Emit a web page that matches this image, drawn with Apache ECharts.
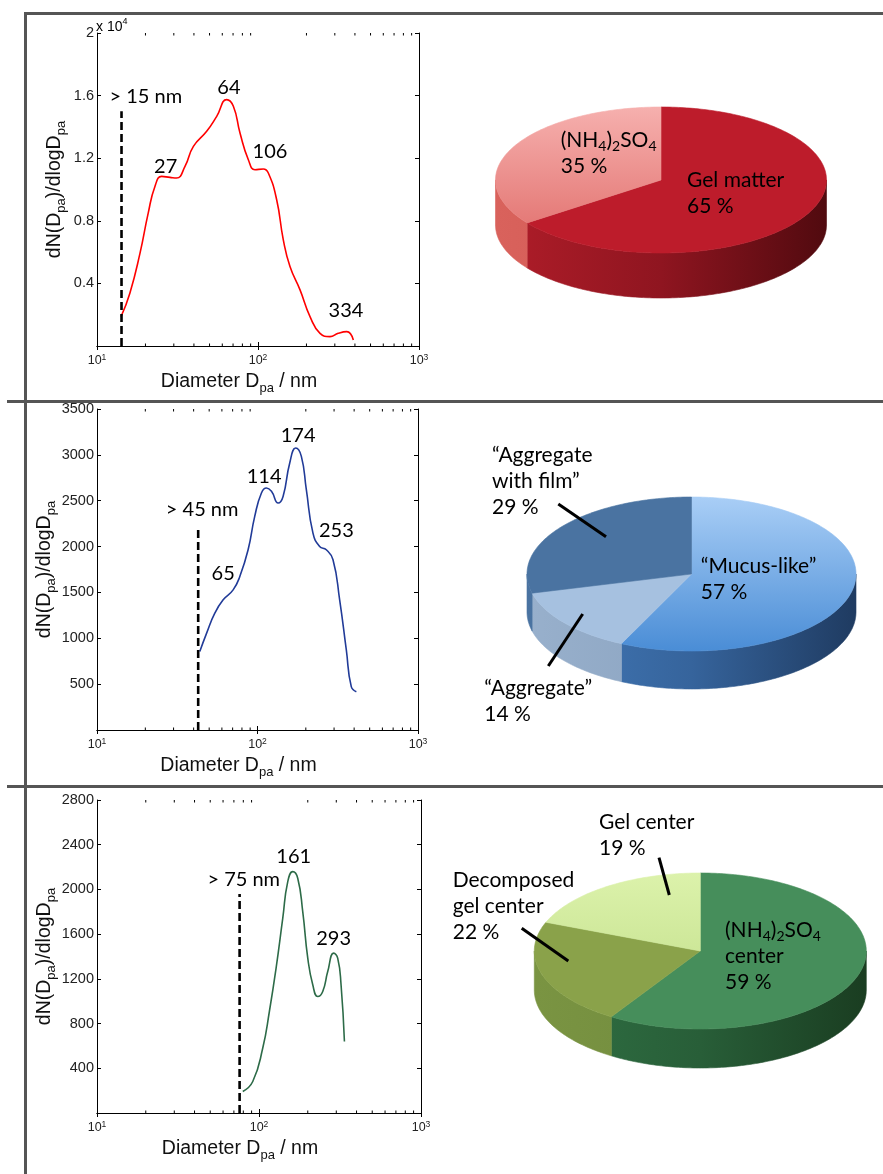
<!DOCTYPE html>
<html><head><meta charset="utf-8">
<script src="https://cdn.jsdelivr.net/npm/echarts@6/dist/echarts.min.js"></script>
<style>html,body{margin:0;padding:0;background:#fff}#c{width:883px;height:1174px}</style>
</head><body><div id="c"></div>
<script>
// ---------- DATA ----------
const D1 = [14.1,16.0,18.5,20.8,22.9,25.2,28.4,31.2,35.2,39.7,48.0,55.4,63.9,70.3,77.3,87.1,95.8,107.9,115.9,130.6,143.6,158,182.4,210.4,242.8,280,315,356,391];
const V1 = [1877,3371,5931,8491,10197,10837,10773,10731,11477,12757,13717,14677,15744,15317,13611,11904,11264,11307,11051,9344,6784,5077,3584,1877,811,597,811,917,384];
const D2 = [43.7,48.2,54.2,61.1,70.5,77.6,87.4,96.1,105.8,113.7,122.2,134.4,144.3,158.8,173,187.6,201.5,221.6,243.9,268.3,295.4,325,357.6,384,413];
const V2 = [855,1056,1274,1419,1528,1674,1965,2329,2584,2638,2602,2475,2547,2912,3075,2984,2620,2147,2001,1965,1856,1419,873,473,418];
const D3 = [79.4,91.5,105.5,115.9,127.5,140.2,150.5,161.6,173.4,186.2,200,214.7,230.5,247.4,265.6,289,306,321,336.8];
const V3 = [193,282,581,908,1296,1743,2070,2159,2100,1802,1385,1147,1042,1087,1265,1430,1385,1147,640];

const peakText1 = ['27','64','106','334'];
const peakAt1 = [[26.7,11475],[66,16493],[118.7,12397],[352,2240]];
const peakText2 = ['65','114','174','253'];
const peakAt2 = [[61.1,1711],[109.9,2765],[179,3213],[310,2172]];
const peakText3 = ['161','293'];
const peakAt3 = [[163.9,2293],[289,1564]];

const cutoffD = [14.2, 42.7, 75.9];
const cutoffTop = [15000, 2200, 1960];
const cutoffText = ['> 15 nm','> 45 nm','> 75 nm'];
const cutoffTextAt = [[20.1,15955],[45.2,2409],[80.5,2085]];

const yMax = [20000, 3500, 2800];
const yStep = [4000, 500, 400];
const xMajorTicks = [10, 100, 1000];
const xMinorTicks = [20,30,40,50,60,70,80,90,200,300,400,500,600,700,800,900];

const pie1Names = ['Gel matter','(NH4)2SO4'];
const pie1Values = [65, 35];
const pie2Names = ['Mucus-like','Aggregate','Aggregate with film'];
const pie2Values = [57, 14, 29];
const pie3Names = ['(NH4)2SO4 center','Decomposed gel center','Gel center'];
const pie3Values = [59, 22, 19];

// ---------- LAYOUT / STYLE ----------
const AX = 'Liberation Sans, Arial, sans-serif';
const LB = 'Lato, Open Sans, sans-serif';
const grids = [
  {left:97, top:33, width:322, height:313},
  {left:97, top:409, width:321, height:321},
  {left:97, top:800, width:324, height:313}
];
const lineColors = ['#ff0000', '#213b98', '#2d6b48'];
const Ds = [D1,D2,D3], Vs = [V1,V2,V3];
const peakTexts = [peakText1,peakText2,peakText3], peakAts = [peakAt1,peakAt2,peakAt3];

const LG = echarts.graphic.LinearGradient;
const pieGeo = [
  {cx:661, cy:180, rx:165.5, ry:73, depth:45},
  {cx:691.5, cy:574, rx:164.5, ry:77, depth:38},
  {cx:700.3, cy:951, rx:166, ry:78, depth:39}
];
function hgrad(g, stops){ return new LG(g.cx-g.rx, 0, g.cx+g.rx, 0, stops.map((c,i)=>({offset:i/(stops.length-1), color:c})), true); }
function vgrad(g, stops){ return new LG(0, g.cy-g.ry, 0, g.cy+g.ry, stops.map((c,i)=>({offset:i/(stops.length-1), color:c})), true); }
const pieStyles = [
  [ {top:'#bd1c2b', side:['#b01d29','#8f1520','#510a0f']},
    {top:['#f6b0ae','#e06c69'], side:['#d9625c','#c8504b']} ],
  [ {top:['#a9cef6','#4a8dd6'], side:['#4279b8','#36649c','#1f3b61']},
    {top:'#a6c1e0', side:['#98b0cc','#8099b7']},
    {top:'#4a73a1', side:['#4a73a1','#3c5f88']} ],
  [ {top:'#468e5b', side:['#2f7043','#285e38','#1a3d21']},
    {top:'#8aa24a', side:['#7a9442','#6a843a']},
    {top:['#dcf2ab','#bedc86'], side:['#b8d480','#a8c470']} ]
];
function fillOf(g, f, isSide){
  if (typeof f === 'string') return f;
  return isSide ? hgrad(g, f) : vgrad(g, f);
}

function pieSeries(values, g, styles){
  const total = values.reduce((a,b)=>a+b,0);
  return {
    type:'custom', coordinateSystem:'none', silent:true, data: values,
    renderItem: function(params, api){
      const i = params.dataIndex;
      let before = 0; for (let k=0;k<i;k++) before += values[k];
      const a1 = before/total*Math.PI*2;
      const a2 = a1 + api.value(0)/total*Math.PI*2;
      const pt = (t, dy) => [g.cx + g.rx*Math.sin(t), g.cy - g.ry*Math.cos(t) + (dy||0)];
      const arc = (s, e, dy) => { const n = Math.max(2, Math.ceil((e-s)/Math.PI*180)); const p=[]; for(let k=0;k<=n;k++) p.push(pt(s+(e-s)*k/n, dy)); return p; };
      const st = styles[i];
      const children = [];
      const s = Math.max(a1, Math.PI/2), e = Math.min(a2, Math.PI*1.5);
      if (s < e) {
        const pts = arc(s, e, 0).concat(arc(s, e, g.depth).reverse());
        const f = fillOf(g, st.side, true);
        children.push({type:'polygon', z2:1, shape:{points:pts}, style:{fill:f, stroke:f, lineWidth:0.6}});
      }
      const topPts = [[g.cx, g.cy]].concat(arc(a1, a2, 0));
      const tf = fillOf(g, st.top, false);
      children.push({type:'polygon', z2:2, shape:{points:topPts}, style:{fill:tf, stroke:tf, lineWidth:0.6}});
      return {type:'group', children};
    }
  };
}

// ---------- OPTION ----------
const xAxes = [], yAxes = [], series = [];
const tickLabelStyle = {fontFamily:AX, fontSize:14.5, color:'#222'};
const nameRich = {n:{fontFamily:AX, fontSize:19.5, lineHeight:26, color:'#111'}, s:{fontFamily:AX, fontSize:13, lineHeight:13, verticalAlign:'bottom', color:'#111'}};
grids.forEach((gr, i) => {
  xAxes.push({
    type:'log', logBase:10, min:10, max:1000, gridIndex:i, position:'bottom',
    axisLine:{show:true, lineStyle:{color:'#000', width:1}},
    axisTick:{show:true, inside:true, length:4, lineStyle:{color:'#000'}},
    splitLine:{show:false},
    axisLabel:{margin:7, formatter: v => '{b|10}{s|' + Math.round(Math.log10(v)) + '}',
      rich:{b:{fontFamily:AX, fontSize:12.5, lineHeight:16, color:'#222'}, s:{fontFamily:AX, fontSize:8.5, lineHeight:8, verticalAlign:'top', color:'#222'}}},
    name:'{n|Diameter D}{s|pa}{n| / nm}', nameLocation:'middle', nameGap:23,
    nameTextStyle:{rich:nameRich, padding:[0,38,0,0]}
  });
  xAxes.push({
    type:'log', logBase:10, min:10, max:1000, gridIndex:i, position:'top',
    axisLine:{show:true, lineStyle:{color:'#000', width:1}},
    axisTick:{show:true, inside:true, length:4, lineStyle:{color:'#000'}},
    axisLabel:{show:false}, splitLine:{show:false}
  });
  yAxes.push({
    type:'value', min:0, max:yMax[i], interval:yStep[i], gridIndex:i, position:'left',
    axisLine:{show:true, lineStyle:{color:'#000', width:1}},
    axisTick:{show:true, inside:true, length:4, lineStyle:{color:'#000'}},
    splitLine:{show:false},
    axisLabel:Object.assign({margin:3, formatter: v => v === 0 ? '' : (i === 0 ? String(v/10000) : String(v))}, tickLabelStyle),
    name:'{n|dN(D}{s|pa}{n|)/dlogD}{s|pa}', nameLocation:'middle', nameGap:29, nameRotate:90,
    nameTextStyle:{rich:nameRich}
  });
  yAxes.push({
    type:'value', min:0, max:yMax[i], interval:yStep[i], gridIndex:i, position:'right',
    axisLine:{show:true, lineStyle:{color:'#000', width:1}},
    axisTick:{show:true, inside:true, length:4, lineStyle:{color:'#000'}},
    axisLabel:{show:false}, splitLine:{show:false}
  });
  const xi = i*2, yi = i*2;
  series.push({
    type:'line', xAxisIndex:xi, yAxisIndex:yi, smooth:0.5, symbol:'none', silent:true,
    data: Ds[i].map((d,k)=>[d, Vs[i][k]]),
    lineStyle:{color:lineColors[i], width:1.6}, z:3
  });
  series.push({
    type:'line', xAxisIndex:xi, yAxisIndex:yi, symbol:'none', silent:true,
    data: [[cutoffD[i], 0], [cutoffD[i], cutoffTop[i]]],
    lineStyle:{color:'#000', width:2.6, type:[8,4]}, z:4
  });
  series.push({
    type:'scatter', xAxisIndex:xi, yAxisIndex:yi, symbol:'rect', symbolSize:0, silent:true,
    itemStyle:{color:'#000'},
    data: peakAts[i].map((p,k)=>({value:p, name:peakTexts[i][k]})).concat([{value:cutoffTextAt[i], name:cutoffText[i]}]),
    label:{show:true, position:'inside', formatter:'{b}', fontFamily:LB, fontSize:20, color:'#000', textBorderWidth:0, opacity:1}, z:5
  });
  series.push({
    type:'custom', xAxisIndex:xi, yAxisIndex:yi, silent:true,
    data: xMinorTicks.map(t=>[t, 0]),
    renderItem: function(params, api){
      const cs = params.coordSys;
      const x = api.coord([api.value(0), 0])[0];
      return {type:'group', children:[
        {type:'line', shape:{x1:x, y1:cs.y+cs.height, x2:x, y2:cs.y+cs.height-2.5}, style:{stroke:'#000', lineWidth:1}},
        {type:'line', shape:{x1:x, y1:cs.y, x2:x, y2:cs.y+2.5}, style:{stroke:'#000', lineWidth:1}}
      ]};
    }
  });
});
series.push(pieSeries(pie1Values, pieGeo[0], pieStyles[0]));
series.push(pieSeries(pie2Values, pieGeo[1], pieStyles[1]));
series.push(pieSeries(pie3Values, pieGeo[2], pieStyles[2]));

const richLbl = {
  n:{fontFamily:LB, fontSize:21, lineHeight:26, color:'#111'},
  s:{fontFamily:LB, fontSize:14, lineHeight:14, verticalAlign:'bottom', color:'#111'}
};
function lbl(x, y, text){ return {type:'text', x:x, y:y, silent:true, z:10, style:{text:text, rich:richLbl, align:'left', verticalAlign:'top'}}; }
function seg(x1,y1,x2,y2){ return {type:'line', silent:true, z:10, shape:{x1,y1,x2,y2}, style:{stroke:'#000', lineWidth:3}}; }
const frame = '#555555';
const graphics = [
  {type:'rect', shape:{x:24, y:12, width:859, height:3}, style:{fill:frame}, silent:true},
  {type:'rect', shape:{x:24, y:12, width:3, height:1162}, style:{fill:frame}, silent:true},
  {type:'rect', shape:{x:7, y:400, width:876, height:3}, style:{fill:frame}, silent:true},
  {type:'rect', shape:{x:7, y:785, width:876, height:3}, style:{fill:frame}, silent:true},
  {type:'text', x:96, y:17, silent:true, style:{text:'{a|x 10}{b|4}', align:'left', verticalAlign:'top',
    rich:{a:{fontFamily:AX, fontSize:14, lineHeight:20, color:'#222'}, b:{fontFamily:AX, fontSize:9, lineHeight:9, verticalAlign:'top', color:'#222'}}}},
  lbl(560.7, 127, '{n|(NH}{s|4}{n|)}{s|2}{n|SO}{s|4}\n{n|35 %}'),
  lbl(687, 167, '{n|Gel matter}\n{n|65 %}'),
  lbl(492, 442, '{n|\u201cAggregate}\n{n|with film\u201d}\n{n|29 %}'),
  lbl(700.7, 553.7, '{n|\u201cMucus-like\u201d}\n{n|57 %}'),
  lbl(484.3, 675.3, '{n|\u201cAggregate\u201d}\n{n|14 %}'),
  lbl(599, 809, '{n|Gel center}\n{n|19 %}'),
  lbl(452.7, 867, '{n|Decomposed}\n{n|gel center}\n{n|22 %}'),
  lbl(725, 917, '{n|(NH}{s|4}{n|)}{s|2}{n|SO}{s|4}\n{n|center}\n{n|59 %}'),
  seg(558.3, 504, 606, 536.7),
  seg(582.7, 614, 548.3, 666),
  seg(659, 857.7, 669.3, 895),
  seg(521.7, 928.3, 568.3, 961)
];

const chart = echarts.init(document.getElementById('c'), null, {renderer:'canvas'});
chart.setOption({
  animation:false,
  backgroundColor:'#ffffff',
  grid: grids.map(g => Object.assign({show:false}, g)),
  xAxis: xAxes, yAxis: yAxes, series: series, graphic: graphics
});
</script>
</body></html>
